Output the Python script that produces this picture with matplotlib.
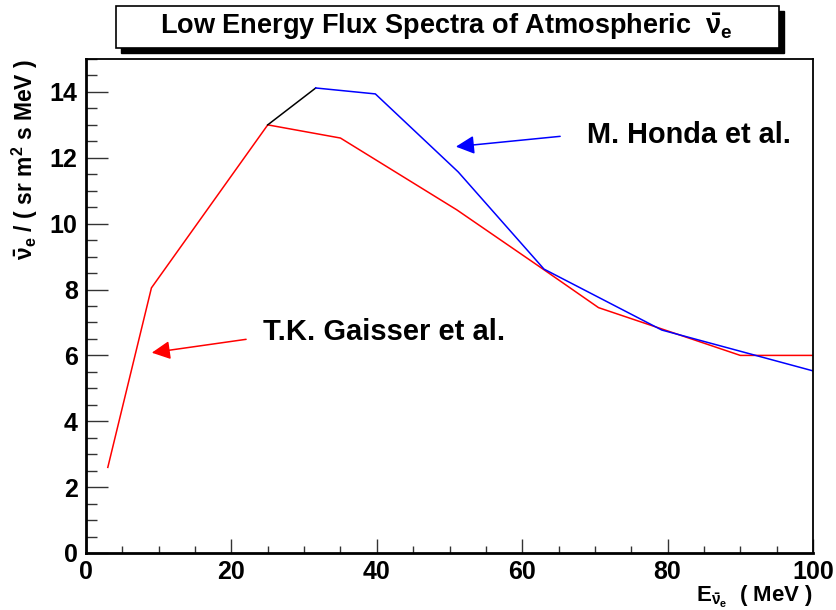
import matplotlib
matplotlib.use("Agg")
import matplotlib.pyplot as plt
from matplotlib.patches import Rectangle
from matplotlib.ticker import MultipleLocator

plt.rcParams['font.family'] = ['Liberation Sans', 'DejaVu Sans']
plt.rcParams['font.weight'] = 'bold'
plt.rcParams['mathtext.fontset'] = 'custom'
plt.rcParams['mathtext.rm'] = 'Liberation Sans:bold'
plt.rcParams['mathtext.it'] = 'Liberation Sans:bold'
plt.rcParams['mathtext.bf'] = 'Liberation Sans:bold'

# Gaisser et al. (red)
gaisser_e = [3, 9, 25, 35, 51, 63, 70.5, 90, 100]
gaisser_flux = [2.6, 8.05, 13.0, 12.6, 10.42, 8.6, 7.45, 6.0, 6.0]

# Honda et al. (blue, first segment black)
honda_e = [25, 31.6, 39.8, 51.2, 63.0, 79.2, 100]
honda_flux = [13.0, 14.12, 13.94, 11.57, 8.62, 6.77, 5.53]

fig = plt.figure(figsize=(8.36, 6.10), dpi=100)
ax = fig.add_axes([86/836, 1-553/610, (813-86)/836, (553-59)/610])

ax.plot(gaisser_e, gaisser_flux, color='red', lw=1.1)
ax.plot(honda_e[:2], honda_flux[:2], color='black', lw=1.1)
ax.plot(honda_e[1:], honda_flux[1:], color='blue', lw=1.1)

ax.set_xlim(0, 100)
ax.set_ylim(0, 15)

# arrows + labels
ax.annotate('', xy=(50.5, 12.33), xytext=(65.6, 12.66),
            arrowprops=dict(arrowstyle='-|>', color='blue', lw=1.1, mutation_scale=28))
ax.annotate('', xy=(8.67, 6.07), xytext=(22.4, 6.5),
            arrowprops=dict(arrowstyle='-|>', color='red', lw=1.1, mutation_scale=28))
ax.text(68.9, 12.69, 'M. Honda et al.', fontsize=20.8, fontweight='bold', va='center', ha='left')
ax.text(24.3, 6.71, 'T.K. Gaisser et al.', fontsize=21, fontweight='bold', va='center', ha='left')

# axes style
ax.xaxis.set_major_locator(MultipleLocator(20))
ax.xaxis.set_minor_locator(MultipleLocator(5))
ax.yaxis.set_major_locator(MultipleLocator(2))
ax.yaxis.set_minor_locator(MultipleLocator(0.5))
ax.tick_params(axis='both', which='both', direction='in', top=False, right=False,
               labelsize=18, color='#333333', width=1)
ax.tick_params(axis='y', which='major', length=15.5, pad=6)
ax.tick_params(axis='y', which='minor', length=7.9)
ax.tick_params(axis='x', which='major', length=10.4, pad=5)
ax.tick_params(axis='x', which='minor', length=5.2)
for lab in ax.get_xticklabels() + ax.get_yticklabels():
    lab.set_fontweight('bold')
for s in ['top', 'right']:
    ax.spines[s].set_linewidth(1.3)
for s in ['left', 'bottom']:
    ax.spines[s].set_linewidth(2)

ax.set_ylabel(r'$\bar{\nu}_{e}$ / ( sr m$^{2}$ s MeV )', fontsize=16.5, fontweight='bold',
              loc='top', labelpad=7)
ax.set_xlabel(r'E$_{\bar{\nu}_{e}}$  ( MeV )', fontsize=16, fontweight='bold',
              loc='right', labelpad=0)

# title box with shadow
W, H = 836, 610
fig.patches.append(Rectangle((121/W, 1-53/H), (784-121)/W, (53-11)/H,
                             transform=fig.transFigure, facecolor='black', edgecolor='black'))
fig.patches.append(Rectangle((116/W, 1-48/H), (779-116)/W, (48-6)/H,
                             transform=fig.transFigure, facecolor='white', edgecolor='black', lw=1.2))
fig.text(446/W, 1-27/H, r'Low Energy Flux Spectra of Atmospheric  $\bar{\nu}_{e}$',
         fontsize=19.5, fontweight='bold', ha='center', va='center')

fig.savefig('out.png', dpi=100)
